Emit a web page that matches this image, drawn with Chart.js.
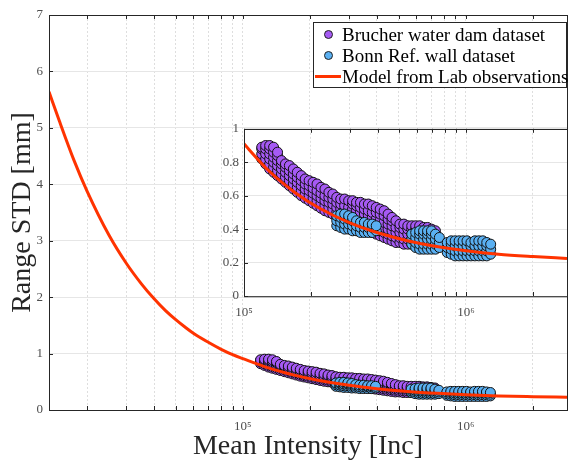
<!DOCTYPE html>
<html>
<head>
<meta charset="utf-8">
<script src="https://cdn.jsdelivr.net/npm/chart.js@4.4.1/dist/chart.umd.min.js"></script>
<style>
  body { margin: 0; background: #fff; }
  #wrap { position: relative; width: 573px; height: 465px; overflow: hidden; }
  #main { position: absolute; left: 0; top: 0; }
  #inset { position: absolute; left: 200px; top: 116px; }
  #legend {
    position: absolute; left: 313px; top: 22px; width: 254px; height: 66px;
    border: 1px solid #262626; background: #fff; box-sizing: border-box;
    font-family: "Liberation Serif", "Times New Roman", serif; font-size: 19px; color: #000;
    padding-top: 1px;
  }
  .row { position: relative; height: 21px; line-height: 21px; padding-left: 28px; white-space: nowrap; }
  .dot { position: absolute; left: 10px; top: 6px; width: 9px; height: 9px; border-radius: 50%; border: 1px solid #222; box-sizing: border-box; }
  .ln { position: absolute; left: 1px; top: 9px; width: 26px; height: 3px; background: #ff3300; }
</style>
</head>
<body>
<div id="wrap">
  <canvas id="main" width="573" height="465"></canvas>
  <canvas id="inset" width="373" height="204"></canvas>
  <div id="legend">
    <div class="row"><span class="dot" style="background:#a65af5"></span>Brucher water dam dataset</div>
    <div class="row"><span class="dot" style="background:#5ab0f2"></span>Bonn Ref. wall dataset</div>
    <div class="row"><span class="ln"></span>Model from Lab observations</div>
  </div>
</div>
<script>
// Brucher dataset: x of each column of points, and the y values in that column
const brucherX = [120200, 125200, 130500, 135900, 141600, 147500, 153700, 160100, 166800, 173800,
  181100, 188600, 196500, 204700, 213300, 222200, 231500, 241200, 251200, 261700,
  272700, 284000, 296000, 308300, 321200, 334600, 348600, 363100, 378300, 394100,
  410600, 427700, 445600, 464200, 483600, 503800, 524800, 546700, 569600, 593400,
  618200, 644000, 670900, 698900, 728200];
const brucherY = [
  [0.82, 0.85, 0.88, 0.89],
  [0.79, 0.82, 0.85, 0.88, 0.90],
  [0.76, 0.79, 0.82, 0.85, 0.88, 0.90],
  [0.74, 0.77, 0.80, 0.83, 0.86, 0.89],
  [0.72, 0.75, 0.78, 0.81, 0.84, 0.86],
  [0.70, 0.73, 0.76, 0.79, 0.81],
  [0.68, 0.71, 0.74, 0.77, 0.79],
  [0.66, 0.69, 0.72, 0.75, 0.78],
  [0.64, 0.67, 0.70, 0.73, 0.76],
  [0.62, 0.65, 0.68, 0.71, 0.74],
  [0.60, 0.63, 0.66, 0.69, 0.72],
  [0.585, 0.61, 0.64, 0.67, 0.70],
  [0.57, 0.60, 0.63, 0.66, 0.69],
  [0.555, 0.585, 0.615, 0.645, 0.68],
  [0.54, 0.57, 0.60, 0.63, 0.67],
  [0.525, 0.555, 0.585, 0.615, 0.65],
  [0.51, 0.54, 0.57, 0.60, 0.64],
  [0.50, 0.53, 0.56, 0.59, 0.62],
  [0.49, 0.52, 0.55, 0.58, 0.61],
  [0.47, 0.50, 0.53, 0.56, 0.59],
  [0.46, 0.49, 0.52, 0.55, 0.58],
  [0.45, 0.48, 0.51, 0.54, 0.58],
  [0.44, 0.47, 0.50, 0.53, 0.57],
  [0.43, 0.46, 0.49, 0.52, 0.55, 0.57],
  [0.42, 0.45, 0.48, 0.51, 0.54, 0.56],
  [0.41, 0.44, 0.47, 0.50, 0.53, 0.56],
  [0.40, 0.43, 0.46, 0.49, 0.52, 0.55],
  [0.39, 0.42, 0.45, 0.48, 0.51, 0.55],
  [0.38, 0.41, 0.44, 0.47, 0.50, 0.54],
  [0.37, 0.40, 0.43, 0.46, 0.50, 0.53],
  [0.36, 0.39, 0.42, 0.45, 0.49, 0.52],
  [0.35, 0.38, 0.41, 0.44, 0.48, 0.51],
  [0.34, 0.37, 0.40, 0.43, 0.46, 0.49],
  [0.33, 0.36, 0.39, 0.42, 0.45, 0.47],
  [0.32, 0.35, 0.38, 0.41, 0.45],
  [0.32, 0.35, 0.38, 0.41, 0.43],
  [0.31, 0.34, 0.37, 0.40, 0.43],
  [0.31, 0.34, 0.37, 0.40, 0.42],
  [0.31, 0.34, 0.37, 0.40, 0.42],
  [0.31, 0.34, 0.37, 0.40, 0.42],
  [0.30, 0.33, 0.36, 0.39, 0.42],
  [0.30, 0.33, 0.36, 0.39, 0.41],
  [0.30, 0.33, 0.36, 0.39, 0.41],
  [0.30, 0.33, 0.36, 0.38, 0.40],
  [0.30, 0.33, 0.36, 0.39]
];

// Bonn dataset, same layout (three clusters)
const bonnX = [261700, 272700, 284000, 296000, 308300, 321200, 334600, 348600, 363100, 378300, 394100,
  569600, 593400, 618200, 644000, 670900, 698900, 728200, 758600,
  823200, 857700, 893500, 931000, 969800, 1010300, 1052400, 1096500, 1142000, 1190000, 1240000, 1291500];
const bonnY = [
  [0.42, 0.45, 0.48], [0.41, 0.44, 0.47, 0.49], [0.40, 0.43, 0.46, 0.49], [0.40, 0.43, 0.46, 0.48],
  [0.39, 0.42, 0.45, 0.47], [0.39, 0.42, 0.45], [0.38, 0.41, 0.44], [0.38, 0.41, 0.44],
  [0.38, 0.41, 0.43], [0.38, 0.41, 0.43], [0.39, 0.42],
  [0.31, 0.34, 0.37], [0.29, 0.32, 0.35, 0.38], [0.28, 0.31, 0.34, 0.37, 0.39], [0.28, 0.31, 0.34, 0.37, 0.39],
  [0.28, 0.31, 0.34, 0.37, 0.39], [0.28, 0.31, 0.34, 0.37, 0.39], [0.28, 0.31, 0.34, 0.37], [0.29, 0.32, 0.35],
  [0.26, 0.29, 0.32], [0.25, 0.28, 0.31, 0.33], [0.24, 0.27, 0.30, 0.33], [0.24, 0.27, 0.30, 0.33],
  [0.24, 0.27, 0.30, 0.33], [0.24, 0.27, 0.30, 0.33], [0.24, 0.27, 0.30, 0.32], [0.24, 0.27, 0.30, 0.33],
  [0.24, 0.27, 0.30, 0.33], [0.24, 0.27, 0.30, 0.33], [0.24, 0.27, 0.30, 0.32], [0.25, 0.28, 0.31]
];

// model curve
const modelX = [13500, 15000, 17500, 20000, 25000, 30000, 35000, 40000, 45000, 50000, 55000, 60000,
  70000, 80000, 90000, 100000, 130000, 170000, 220000, 300000, 400000, 550000, 750000,
  1000000, 1400000, 2000000, 2850000];
const modelY = [5.64, 5.13, 4.42, 3.88, 3.11, 2.60, 2.24, 1.97, 1.76, 1.60, 1.47, 1.36,
  1.20, 1.075, 0.98, 0.91, 0.746, 0.618, 0.523, 0.437, 0.378, 0.329, 0.295,
  0.271, 0.25, 0.236, 0.225];

const mainXTicks = [20000, 30000, 40000, 50000, 60000, 70000, 80000, 90000, 100000,
  200000, 300000, 400000, 500000, 600000, 700000, 800000, 900000, 1000000, 2000000];
const insetXTicks = mainXTicks.slice(8);
const expLabels = { 100000: '10⁵', 1000000: '10⁶' };

const PURPLE = '#a65af5', BLUE = '#5ab0f2', RED = '#ff3300';
const FONT = '"Liberation Serif", "Times New Roman", serif';
Chart.defaults.font.family = FONT;

function toPoints(xs, ys) {
  const pts = [];
  xs.forEach((x, i) => ys[i].forEach(y => pts.push({ x: x, y: y })));
  return pts;
}

// MATLAB style box with inward ticks
const boxAxes = {
  id: 'boxAxes',
  beforeDraw(chart, args, opts) {
    if (!opts.fill) return;
    const a = chart.chartArea, ctx = chart.ctx;
    ctx.save();
    ctx.fillStyle = '#fff';
    ctx.fillRect(a.left, a.top, a.right - a.left, a.bottom - a.top);
    ctx.restore();
  },
  afterDraw(chart) {
    const { ctx, chartArea: a, scales } = chart;
    ctx.save();
    ctx.strokeStyle = '#262626';
    ctx.lineWidth = 1;
    ctx.beginPath();
    scales.x.ticks.forEach(t => {
      const px = Math.round(scales.x.getPixelForValue(t.value)) + 0.5;
      ctx.moveTo(px, a.bottom); ctx.lineTo(px, a.bottom - 4);
      ctx.moveTo(px, a.top); ctx.lineTo(px, a.top + 4);
    });
    scales.y.ticks.forEach(t => {
      const py = Math.round(scales.y.getPixelForValue(t.value)) + 0.5;
      ctx.moveTo(a.left, py); ctx.lineTo(a.left + 4, py);
    });
    ctx.stroke();
    ctx.strokeRect(Math.round(a.left) + 0.5, Math.round(a.top) + 0.5, a.right - a.left, a.bottom - a.top);
    ctx.restore();
  }
};

function makeDatasets() {
  return [
    { label: 'Model from Lab observations', data: modelX.map((x, i) => ({ x: x, y: modelY[i] })),
      showLine: true, borderColor: RED, borderWidth: 3, pointRadius: 0,
      cubicInterpolationMode: 'monotone', order: 0 },
    { label: 'Bonn Ref. wall dataset', data: toPoints(bonnX, bonnY),
      backgroundColor: BLUE, borderColor: '#111', borderWidth: 1, pointRadius: 5, order: 1 },
    { label: 'Brucher water dam dataset', data: toPoints(brucherX, brucherY),
      backgroundColor: PURPLE, borderColor: '#111', borderWidth: 1, pointRadius: 5, order: 2 }
  ];
}

function xScale(min, ticks, size, pad) {
  return {
    type: 'logarithmic', min: min, max: 2850000,
    afterBuildTicks: s => { s.ticks = ticks.map(v => ({ value: v })); },
    afterFit: s => { s.height = size; },
    ticks: { autoSkip: false, maxRotation: 0, padding: pad, color: '#4d4d4d', font: { size: 13 },
      callback: v => expLabels[v] || '' },
    grid: { color: '#dedede', drawTicks: false },
    border: { display: false, dash: [2, 2] }
  };
}

new Chart(document.getElementById('main'), {
  type: 'scatter',
  data: { datasets: makeDatasets() },
  options: {
    responsive: false, animation: false,
    layout: { padding: { top: 15, right: 1, left: 0, bottom: 0 } },
    plugins: { legend: { display: false }, tooltip: { enabled: false }, boxAxes: { fill: false } },
    scales: {
      x: Object.assign(xScale(13500, mainXTicks, 55, 9), {
        title: { display: true, text: 'Mean Intensity [Inc]', color: '#262626',
          font: { size: 28 }, padding: { top: 0, bottom: 2 } }
      }),
      y: {
        min: 0, max: 7,
        afterFit: s => { s.width = 49; },
        ticks: { stepSize: 1, padding: 6, color: '#4d4d4d', font: { size: 13 } },
        grid: { color: '#e6e6e6', drawTicks: false },
        border: { display: false },
        title: { display: true, text: 'Range STD [mm]', color: '#262626',
          font: { size: 28 }, padding: { top: 6, bottom: 0 } }
      }
    }
  },
  plugins: [boxAxes]
});

new Chart(document.getElementById('inset'), {
  type: 'scatter',
  data: { datasets: makeDatasets() },
  options: {
    responsive: false, animation: false,
    layout: { padding: { top: 10, right: 1, left: 0, bottom: 0 } },
    plugins: { legend: { display: false }, tooltip: { enabled: false }, boxAxes: { fill: true } },
    scales: {
      x: xScale(100000, insetXTicks, 24, 9),
      y: {
        min: 0, max: 1,
        afterFit: s => { s.width = 44; },
        ticks: { stepSize: 0.2, padding: 5, color: '#4d4d4d', font: { size: 13 },
          callback: v => String(Math.round(v * 10) / 10) },
        grid: { color: '#e6e6e6', drawTicks: false },
        border: { display: false }
      }
    }
  },
  plugins: [boxAxes]
});
</script>
</body>
</html>
